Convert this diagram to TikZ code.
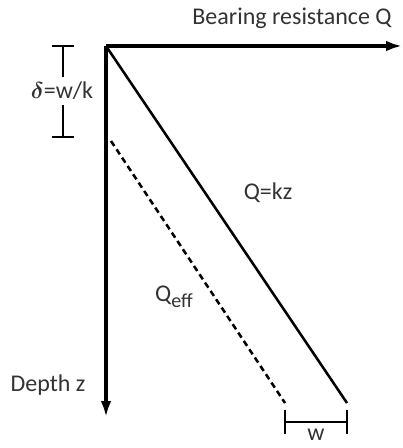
\documentclass[tikz,border=0pt]{standalone}
\usepackage{amsmath}
\usepackage{fontspec}
\setmainfont{Carlito}
\usetikzlibrary{arrows.meta,positioning,calc}
\tikzset{
    axis/.style={ % trục toạ độ
        line width=3pt,
        -{Latex[length=12pt,width=8pt]}
    },
    loadline/.style={ % đường sức chịu tải
        line width=1.9pt
    },
    effline/.style={ % đường sức chịu tải hiệu dụng
        line width=1.9pt,
        dash pattern=on 4.5pt off 3pt
    },
    bracketline/.style={ % thanh đo khoảng cách
        line width=1.4pt
    },
    lbl/.style={ % nhãn chữ
        inner sep=0pt,
        text=black!80,
        font=\fontsize{18}{20}\selectfont
    }
}

\begin{document}
\begin{tikzpicture}[x=0.75pt,y=-0.75pt]
        \useasboundingbox (0,0) rectangle (402,448);

        % trục
        \coordinate (O) at (106,46);
        \coordinate (Qend) at (402,46);
        \coordinate (zend) at (106,417);
        \draw[axis] (O) -- (Qend);
        \draw[axis] (O) -- (zend);

        % đường Q=kz và Q_eff
        \coordinate (kzend) at (347,403);
        \coordinate (effstart) at (111,141);
        \coordinate (effend) at (285,403);
        \draw[loadline] (O) -- (kzend);
        \draw[effline] (effstart) -- (effend);

        % khoảng delta
        \coordinate (dtop) at (63,46);
        \coordinate (dbot) at (63,137);
        \node[lbl] (delta) at (62,91) {$\boldsymbol{\delta}$=w/k};
        \draw[bracketline] (dtop) -- ([yshift=4pt]delta.north -| dtop);
        \draw[bracketline] ([yshift=-4pt]delta.south -| dbot) -- (dbot);
        \draw[bracketline] ([xshift=-8pt]dtop) -- ([xshift=8pt]dtop);
        \draw[bracketline] ([xshift=-8pt]dbot) -- ([xshift=8pt]dbot);

        % khoảng w
        \coordinate (wl) at (285,422);
        \coordinate (wr) at (347,422);
        \draw[bracketline] (wl) -- (wr);
        \draw[bracketline] ([yshift=9pt]wl) -- ([yshift=-9pt]wl);
        \draw[bracketline] ([yshift=9pt]wr) -- ([yshift=-9pt]wr);
        \node[lbl, anchor=base] (w) at ($(wl)!0.5!(wr)+(0,18)$) {w};

        % nhãn
        \node[lbl] (Qlabel) at (292,18) {Bearing resistance Q};
        \node[lbl] (zlabel) at (48,385) {Depth z};
        \node[lbl] (kz) at (268,193) {Q=kz};
        \node[lbl] (eff) at (174,297) {Q\raisebox{-0.5ex}{\fontsize{15}{16}\selectfont eff}};
\end{tikzpicture}
\end{document}
